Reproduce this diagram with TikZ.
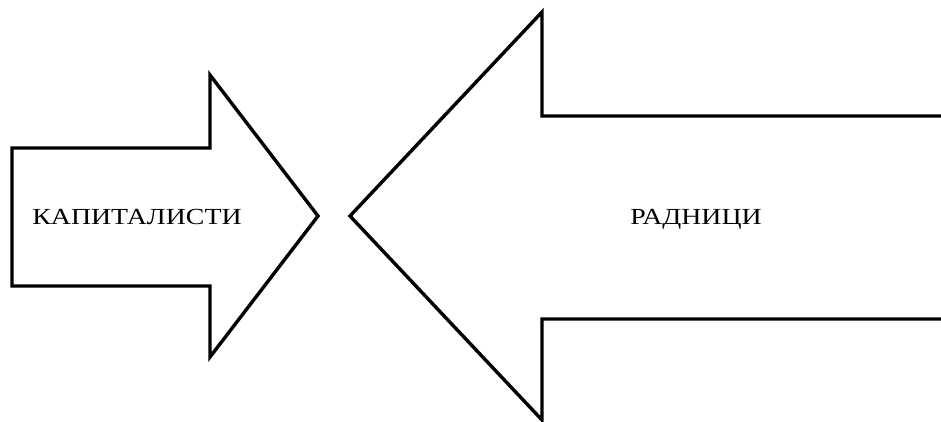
\documentclass[tikz,border=0pt]{standalone}
\usepackage{fontspec}
\setmainfont{Liberation Serif}
\usetikzlibrary{calc}
\tikzset{
  pfeil/.style={black,line width=3.4pt,line join=miter},
  marke/.style={font=\fontsize{23}{26}\selectfont,inner sep=0pt,anchor=base,xscale=1.21},
}

\begin{document}
\begin{tikzpicture}[x=1pt,y=-1pt]
  \useasboundingbox (0,0) rectangle (941,422);
  % linker Pfeil
  \draw[pfeil] (12,148)--(210,148)--(210,75)--(318,216)--(210,357)--(210,286)--(12,286)--cycle;
  % rechter Pfeil, rechts offen
  \draw[pfeil] (945,116)--(542,116)--(542,12)--(350,216)--(542,420)--(542,319)--(945,319);
  \node[marke] (kap) at (137,224) {КАПИТАЛИСТИ};
  \node[marke] (rad) at (696,224) {РАДНИЦИ};
\end{tikzpicture}
\end{document}
